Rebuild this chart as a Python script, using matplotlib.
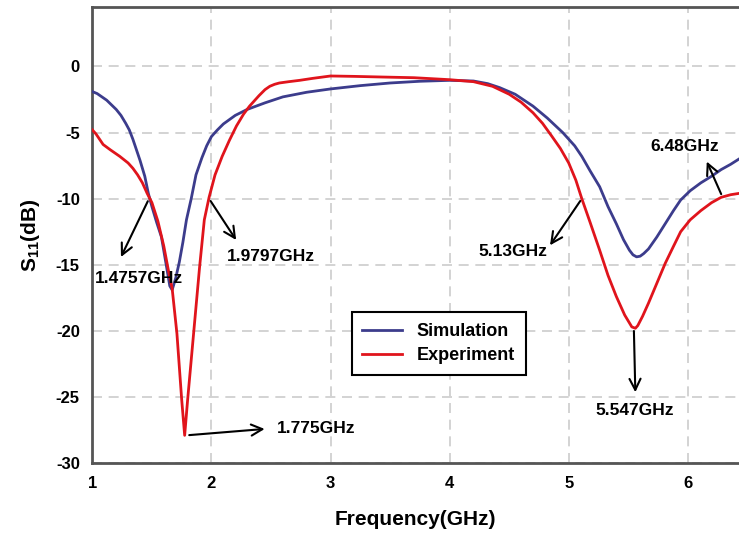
import matplotlib
matplotlib.use("Agg")
import matplotlib.pyplot as plt

# simulated S11 (GHz, dB)
sim_f = [1.00, 1.04, 1.08, 1.12, 1.16, 1.20, 1.24, 1.28, 1.31, 1.34, 1.37, 1.40,
         1.44, 1.47, 1.50, 1.54, 1.58, 1.62, 1.65, 1.67, 1.70, 1.73, 1.76, 1.79,
         1.83, 1.87, 1.92, 1.96, 2.00, 2.05, 2.10, 2.20, 2.30, 2.45, 2.60, 2.80,
         3.00, 3.25, 3.50, 3.75, 4.00, 4.20, 4.32, 4.42, 4.55, 4.70, 4.82, 4.95,
         5.05, 5.11, 5.18, 5.26, 5.33, 5.40, 5.46, 5.51, 5.54, 5.57, 5.60, 5.63,
         5.67, 5.74, 5.81, 5.88, 5.94, 6.02, 6.11, 6.20, 6.28, 6.36, 6.43]
sim_s11 = [-1.9, -2.05, -2.3, -2.55, -2.9, -3.25, -3.7, -4.3, -4.8, -5.5, -6.3, -7.1,
           -8.3, -9.6, -10.6, -11.8, -12.9, -15.0, -16.6, -16.9, -16.0, -14.8, -13.3, -11.6,
           -10.0, -8.2, -6.9, -6.0, -5.3, -4.8, -4.35, -3.7, -3.25, -2.75, -2.3, -1.95,
           -1.7, -1.45, -1.25, -1.12, -1.05, -1.1, -1.3, -1.6, -2.1, -3.0, -3.9, -5.0,
           -6.0, -6.8, -7.9, -9.1, -10.6, -11.9, -13.1, -13.9, -14.25, -14.4, -14.35, -14.15,
           -13.8, -12.9, -11.9, -10.9, -10.1, -9.4, -8.8, -8.3, -7.8, -7.4, -7.0]

# measured S11 (GHz, dB)
exp_f = [1.00, 1.03, 1.06, 1.09, 1.15, 1.23, 1.30, 1.34, 1.38, 1.42, 1.46, 1.50,
         1.55, 1.60, 1.64, 1.67, 1.71, 1.75, 1.775, 1.80, 1.85, 1.90, 1.94, 1.98,
         2.03, 2.09, 2.15, 2.21, 2.27, 2.32, 2.40, 2.45, 2.49, 2.53, 2.57, 2.65,
         2.74, 2.85, 3.00, 3.20, 3.44, 3.70, 4.00, 4.20, 4.36, 4.50, 4.60, 4.70,
         4.78, 4.86, 4.93, 5.00, 5.06, 5.11, 5.18, 5.26, 5.33, 5.40, 5.47, 5.51,
         5.53, 5.56, 5.58, 5.62, 5.67, 5.74, 5.81, 5.88, 5.94, 6.02, 6.11, 6.20,
         6.28, 6.36, 6.43]
exp_s11 = [-4.8, -5.1, -5.5, -5.9, -6.3, -6.8, -7.3, -7.7, -8.2, -8.8, -9.6, -10.3,
           -11.7, -13.6, -15.5, -16.8, -20.2, -25.2, -27.9, -25.2, -20.2, -15.2, -11.6, -9.9,
           -8.2, -6.8, -5.6, -4.5, -3.6, -3.0, -2.2, -1.75, -1.5, -1.35, -1.25, -1.15,
           -1.05, -0.9, -0.72, -0.75, -0.8, -0.85, -1.0, -1.15, -1.5, -2.1, -2.7, -3.5,
           -4.3, -5.3, -6.2, -7.3, -8.6, -10.0, -11.8, -13.9, -15.8, -17.4, -18.8, -19.4,
           -19.7, -19.8, -19.6, -18.9, -17.9, -16.4, -14.9, -13.6, -12.5, -11.6, -10.9, -10.3,
           -9.9, -9.7, -9.6]

xticks = [1, 2, 3, 4, 5, 6]
yticks = [-30, -25, -20, -15, -10, -5, 0]

plt.rcParams['font.family'] = ['Liberation Sans', 'DejaVu Sans']
plt.rcParams['font.weight'] = 'bold'
plt.rcParams['axes.unicode_minus'] = False
plt.rcParams['mathtext.fontset'] = 'custom'
plt.rcParams['mathtext.rm'] = 'Liberation Sans:bold'
plt.rcParams['mathtext.bf'] = 'Liberation Sans:bold'

fig = plt.figure(figsize=(7.39, 5.36), dpi=100)
ax = fig.add_axes([0.125, 0.136, 0.875, 0.851])

ax.plot(sim_f, sim_s11, color='#3c3c8c', lw=2, label='Simulation', zorder=3,
        solid_joinstyle='round')
ax.plot(exp_f, exp_s11, color='#e0141c', lw=2, label='Experiment', zorder=4,
        solid_joinstyle='round')

ax.set_xlim(1, 6.43)
ax.set_ylim(-30, 4.5)
ax.set_xticks(xticks)
ax.set_yticks(yticks)
ax.tick_params(length=0, labelsize=12, pad=9)
ax.grid(True, color='#cccccc', ls=(0, (6, 4)), lw=1.2)
ax.set_axisbelow(True)
for s in ['left', 'bottom', 'top']:
    ax.spines[s].set_color('#555555')
    ax.spines[s].set_linewidth(2)
ax.spines['right'].set_visible(False)

ax.set_xlabel('Frequency(GHz)', fontsize=15, fontweight='bold', labelpad=14)
ax.set_ylabel('$\\mathrm{S_{11}}$(dB)', fontsize=15, fontweight='bold', labelpad=10)

leg = ax.legend(loc='lower left', bbox_to_anchor=(0.387, 0.173), fontsize=13,
                fancybox=False, framealpha=1, edgecolor='black',
                handlelength=2.2, borderpad=0.6, labelspacing=0.4)
leg.get_frame().set_linewidth(1.5)

arw = dict(arrowstyle='->', color='black', lw=1.5, mutation_scale=20)
notes = [
    ('1.4757GHz', (1.23, -14.6), (1.4757, -10.0), (1.02, -16.0), 'left'),
    ('1.9797GHz', (2.22, -13.3), (1.98, -10.0), (2.13, -14.4), 'left'),
    ('1.775GHz', (2.47, -27.4), (1.79, -27.9), (2.55, -27.35), 'left'),
    ('5.13GHz', (4.83, -13.7), (5.11, -10.0), (4.82, -14.0), 'right'),
    ('6.48GHz', (6.15, -7.0), (6.29, -9.85), (5.97, -6.05), 'center'),
    ('5.547GHz', (5.56, -24.85), (5.547, -19.8), (5.55, -26.0), 'center'),
]
for label, head, tail, pos, ha in notes:
    ax.annotate('', xy=head, xytext=tail, arrowprops=arw, zorder=5)
    ax.text(pos[0], pos[1], label, ha=ha, va='center', fontsize=12.5,
            fontweight='bold', zorder=6)

fig.savefig('out.png', dpi=100)
